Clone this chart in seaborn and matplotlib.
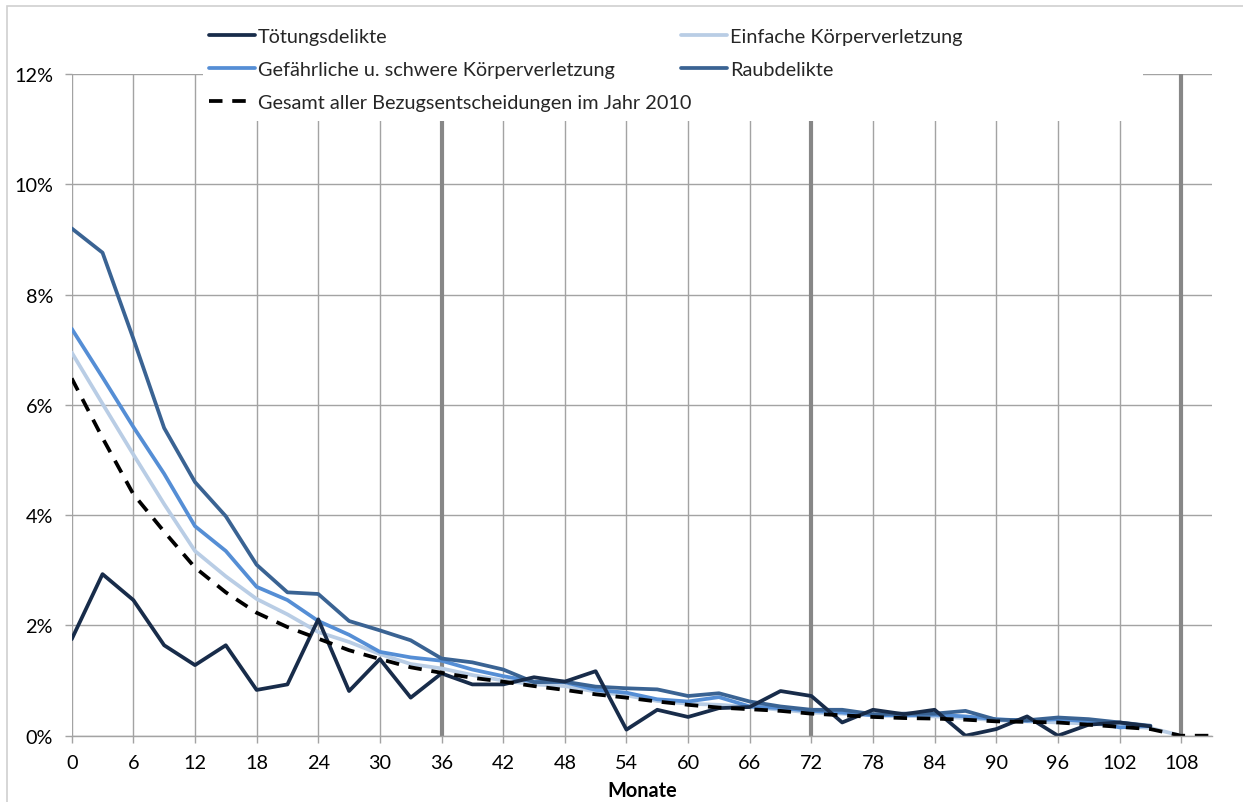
import matplotlib
matplotlib.use("Agg")
import matplotlib.pyplot as plt
import seaborn as sns
from matplotlib.patches import Rectangle
from matplotlib.ticker import FuncFormatter, MultipleLocator

# ---------------- data (percent) ----------------
months = [0, 3, 6, 9, 12, 15, 18, 21, 24, 27, 30, 33, 36, 39, 42, 45, 48, 51,
          54, 57, 60, 63, 66, 69, 72, 75, 78, 81, 84, 87, 90, 93, 96, 99, 102, 105]
months_einfache = months + [108]
months_gesamt = months + [108, 111]

toetung = [1.75, 2.93, 2.46, 1.64, 1.28, 1.64, 0.83, 0.93, 2.11, 0.81, 1.39, 0.69,
           1.13, 0.93, 0.93, 1.06, 0.98, 1.17, 0.11, 0.47, 0.34, 0.50, 0.52, 0.81,
           0.72, 0.24, 0.47, 0.39, 0.47, 0.00, 0.12, 0.35, 0.00, 0.20, 0.24, 0.17]
einfache = [6.95, 6.02, 5.10, 4.20, 3.35, 2.89, 2.48, 2.20, 1.88, 1.70, 1.48, 1.30,
            1.22, 1.10, 1.00, 0.93, 0.90, 0.80, 0.73, 0.63, 0.58, 0.56, 0.52, 0.47,
            0.42, 0.40, 0.37, 0.36, 0.35, 0.32, 0.28, 0.26, 0.24, 0.22, 0.18, 0.14, 0.00]
gefaehrlich = [7.38, 6.50, 5.60, 4.75, 3.80, 3.35, 2.70, 2.46, 2.08, 1.83, 1.52, 1.42,
               1.36, 1.20, 1.08, 0.98, 0.97, 0.83, 0.78, 0.66, 0.62, 0.70, 0.53, 0.50,
               0.45, 0.42, 0.37, 0.37, 0.38, 0.35, 0.30, 0.27, 0.30, 0.26, 0.15, 0.18]
raub = [9.20, 8.76, 7.20, 5.58, 4.60, 3.98, 3.10, 2.60, 2.57, 2.08, 1.91, 1.73,
        1.40, 1.33, 1.20, 0.97, 0.98, 0.89, 0.86, 0.84, 0.72, 0.77, 0.62, 0.53,
        0.47, 0.47, 0.39, 0.40, 0.40, 0.45, 0.29, 0.28, 0.33, 0.30, 0.24, 0.18]
gesamt = [6.48, 5.40, 4.38, 3.70, 3.05, 2.60, 2.23, 1.97, 1.76, 1.55, 1.39, 1.24,
          1.14, 1.05, 0.98, 0.90, 0.83, 0.75, 0.69, 0.62, 0.56, 0.51, 0.48, 0.45,
          0.40, 0.37, 0.34, 0.32, 0.31, 0.29, 0.26, 0.25, 0.24, 0.20, 0.16, 0.12,
          0.00, 0.00]

labels = ["Tötungsdelikte", "Einfache Körperverletzung",
          "Gefährliche u. schwere Körperverletzung", "Raubdelikte",
          "Gesamt aller Bezugsentscheidungen im Jahr 2010"]
x_label = "Monate"
y_ticks = [0, 2, 4, 6, 8, 10, 12]
year_marks = [36, 72, 108]

# ---------------- style ----------------
sns.set_theme(style="white")
plt.rcParams['font.family'] = ['Lato', 'DejaVu Sans']
FS = 14.3
W, H = 1243, 803
C_TOET = "#182C4A"
C_EINF = "#B9CDE5"
C_GEF = "#558ED5"
C_RAUB = "#3A6393"
GRID = "#A3A3A3"

fig = plt.figure(figsize=(W / 100, H / 100), dpi=100)
fig.patch.set_facecolor("white")
ax = fig.add_axes([71.7 / W, (H - 736.7) / H, (1212 - 71.7) / W, (736.7 - 75) / H])

LW = 2.7
sns.lineplot(x=months_einfache, y=einfache, ax=ax, color=C_EINF, lw=LW, legend=False)
h_einf = ax.lines[-1]
sns.lineplot(x=months, y=gefaehrlich, ax=ax, color=C_GEF, lw=LW, legend=False)
h_gef = ax.lines[-1]
sns.lineplot(x=months, y=raub, ax=ax, color=C_RAUB, lw=LW, legend=False)
h_raub = ax.lines[-1]
sns.lineplot(x=months, y=toetung, ax=ax, color=C_TOET, lw=LW, legend=False)
h_toet = ax.lines[-1]
sns.lineplot(x=months_gesamt, y=gesamt, ax=ax, color="black", lw=LW, legend=False)
h_ges = ax.lines[-1]
h_ges.set_dashes([3.6, 2.6])

for ln in ax.lines:
    ln.set_solid_joinstyle("round")

for m in year_marks:
    ax.axvline(m, color="#878787", lw=3.0, zorder=1.5)

ax.set_xlim(0, 111)
ax.set_ylim(0, 12)
ax.xaxis.set_major_locator(MultipleLocator(6))
ax.set_yticks(y_ticks)
ax.yaxis.set_major_formatter(FuncFormatter(lambda v, p: f"{v:.0f}%"))
ax.grid(True, color=GRID, lw=1.0, zorder=0)
ax.set_axisbelow(True)
for s in ["top", "right", "left"]:
    ax.spines[s].set_visible(False)
ax.spines["bottom"].set_color(GRID)
ax.spines["bottom"].set_linewidth(1.0)
ax.tick_params(axis="both", bottom=True, left=True, length=5, width=1.0,
               color=GRID, labelsize=FS, labelcolor="black")
ax.tick_params(axis="x", pad=8)
ax.tick_params(axis="y", pad=8.5)
ax.set_xlabel(x_label, fontsize=FS, fontweight="bold", color="black", labelpad=6.5)
ax.set_ylabel("")

# outer chart border
fig.add_artist(Rectangle((7 / W, -0.05), 1.2, (H - 7) / H + 0.05,
                         transform=fig.transFigure, facecolor="none",
                         edgecolor="#D0D0D0", lw=1.2, zorder=0.5))
# legend background
fig.add_artist(Rectangle((203 / W, 1 - 122 / H), (1143 - 203) / W, 110 / H,
                         transform=fig.transFigure, facecolor="white",
                         edgecolor="none", zorder=3))

leg = fig.legend(handles=[h_toet, h_gef, h_ges, h_einf, h_raub],
                 labels=[labels[0], labels[2], labels[4], labels[1], labels[3]],
                 ncol=2, loc="upper left", bbox_to_anchor=(209 / W, 1 - 28.5 / H),
                 frameon=False, fontsize=FS, handlelength=2.3, handletextpad=0.15,
                 columnspacing=-0.5, labelspacing=0.82, borderpad=0, borderaxespad=0)
leg.set_zorder(5)

fig.savefig("out.png", dpi=100, facecolor="white")
